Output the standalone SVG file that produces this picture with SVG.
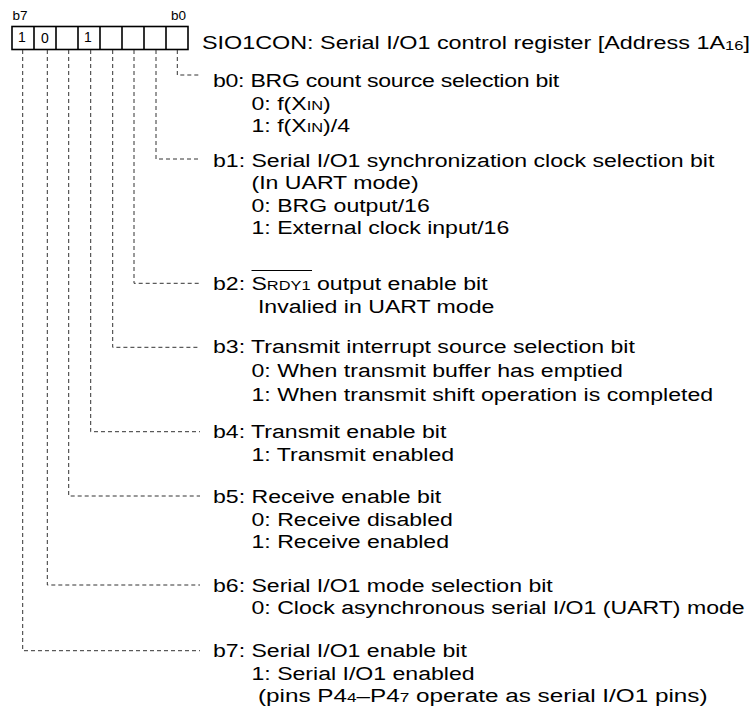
<svg xmlns="http://www.w3.org/2000/svg" width="753" height="711" viewBox="0 0 753 711">
<style>
text{font-family:"Liberation Sans",Arial,Helvetica,sans-serif;fill:#000}
.t{font-size:19px}
.s{font-size:13.5px}
.bit{font-size:14px;text-anchor:middle}
.lbl{font-size:13.5px}
.cell{fill:#fff;stroke:#000;stroke-width:1.6}
.div{stroke:#000;stroke-width:1.6}
.con{fill:none;stroke:#333;stroke-width:1;stroke-dasharray:4 3}
</style>
<rect width="753" height="711" fill="#fff"/>
<g id="register">
<text class="lbl" x="12.5" y="20">b7</text>
<text class="lbl" x="171" y="20">b0</text>
<rect class="cell" x="12" y="26.5" width="176" height="23"/>
<path class="div" d="M34 26.5V49.5M56 26.5V49.5M78 26.5V49.5M100 26.5V49.5M122 26.5V49.5M144 26.5V49.5M166 26.5V49.5"/>
<text class="bit" x="22" y="42">1</text>
<text class="bit" x="45" y="42.5">0</text>
<text class="bit" x="88" y="42">1</text>
</g>
<g id="connectors">
<path class="con" d="M177.3 50V75H200"/>
<path class="con" d="M156 50V159H200"/>
<path class="con" d="M134 50V283.3H200"/>
<path class="con" d="M112.7 50V347.3H200"/>
<path class="con" d="M90.7 50V431.7H200"/>
<path class="con" d="M68.7 50V496H200"/>
<path class="con" d="M47.3 50V585H200"/>
<path class="con" d="M22.7 50V650.7H200"/>
</g>
<g id="title" transform="translate(202,0) scale(1.215,1)">
<text class="t" x="0" y="49" textLength="451" lengthAdjust="spacingAndGlyphs">SIO1CON: Serial I/O1 control register [Address 1A<tspan class="s" dy="1">16</tspan><tspan dy="-1">]</tspan></text>
</g>
<g id="b0" transform="translate(213,0) scale(1.215,1)">
<text class="t" x="0" y="87" textLength="285" lengthAdjust="spacing">b0: BRG count source selection bit</text>
<text class="t" x="31.7" y="109.7">0: f(X<tspan class="s">IN</tspan>)</text>
<text class="t" x="31.7" y="132">1: f(X<tspan class="s">IN</tspan>)/4</text>
</g>
<g id="b1" transform="translate(213,0) scale(1.215,1)">
<text class="t" x="0" y="167">b1: Serial I/O1 synchronization clock selection bit</text>
<text class="t" x="31.7" y="189.5">(In UART mode)</text>
<text class="t" x="31.7" y="212">0: BRG output/16</text>
<text class="t" x="31.7" y="234.5">1: External clock input/16</text>
</g>
<g id="b2" transform="translate(213,0) scale(1.215,1)">
<text class="t" x="0" y="290">b2: S<tspan class="s">RDY1</tspan> output enable bit</text>
<line x1="31.7" y1="270.5" x2="81.5" y2="270.5" stroke="#000" stroke-width="1"/>
<text class="t" x="37" y="312.7">Invalied in UART mode</text>
</g>
<g id="b3" transform="translate(213,0) scale(1.215,1)">
<text class="t" x="0" y="353.3">b3: Transmit interrupt source selection bit</text>
<text class="t" x="31.7" y="377.5">0: When transmit buffer has emptied</text>
<text class="t" x="31.7" y="401">1: When transmit shift operation is completed</text>
</g>
<g id="b4" transform="translate(213,0) scale(1.215,1)">
<text class="t" x="0" y="438.3">b4: Transmit enable bit</text>
<text class="t" x="31.7" y="461.5">1: Transmit enabled</text>
</g>
<g id="b5" transform="translate(213,0) scale(1.215,1)">
<text class="t" x="0" y="503.3">b5: Receive enable bit</text>
<text class="t" x="31.7" y="526">0: Receive disabled</text>
<text class="t" x="31.7" y="548.5">1: Receive enabled</text>
</g>
<g id="b6" transform="translate(213,0) scale(1.215,1)">
<text class="t" x="0" y="591.7">b6: Serial I/O1 mode selection bit</text>
<text class="t" x="31.7" y="614">0: Clock asynchronous serial I/O1 (UART) mode</text>
</g>
<g id="b7" transform="translate(213,0) scale(1.215,1)">
<text class="t" x="0" y="657.3">b7: Serial I/O1 enable bit</text>
<text class="t" x="31.7" y="680">1: Serial I/O1 enabled</text>
<text class="t" x="37" y="702.3" textLength="370" lengthAdjust="spacingAndGlyphs">(pins P4<tspan class="s">4</tspan>–P4<tspan class="s">7</tspan> operate as serial I/O1 pins)</text>
</g>
</svg>
